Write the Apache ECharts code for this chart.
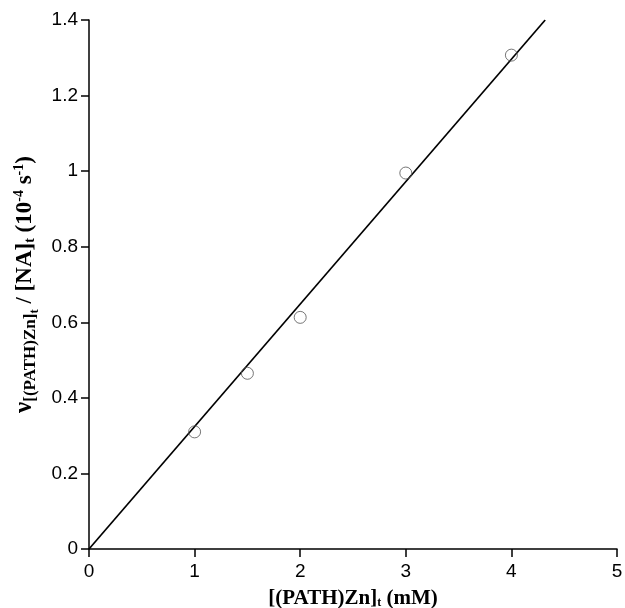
<!DOCTYPE html>
<html>
<head>
<meta charset="utf-8">
<script src="https://cdn.jsdelivr.net/npm/echarts@6/dist/echarts.min.js"></script>
<style>
html,body{margin:0;padding:0;background:#fff;}
#chart{width:625px;height:608px;}
</style>
</head>
<body>
<div id="chart"></div>
<script>
// Measured rate vs. total catalyst concentration
const concentration = [1, 1.5, 2, 3, 4];          // [(PATH)Zn]t, mM
const rate = [0.31, 0.465, 0.613, 0.995, 1.307];  // 10^-4 s^-1
// Linear fit through the origin, drawn between its two end points
const fitLine = [[0, 0], [4.32, 1.4]];
const xTicks = [0, 1, 2, 3, 4, 5];
const yTicks = [0, 0.2, 0.4, 0.6, 0.8, 1, 1.2, 1.4];

const points = concentration.map((c, i) => [c, rate[i]]);
const chart = echarts.init(document.getElementById('chart'));

const SERIF = 'Liberation Serif, Times New Roman, serif';
const axisCommon = {
  axisLine: { show: true, onZero: false, lineStyle: { color: '#000', width: 1.5 } },
  axisTick: { show: true, inside: false, length: 8, lineStyle: { color: '#000', width: 1.5 } },
  splitLine: { show: false },
  axisLabel: { color: '#000', fontFamily: 'Liberation Sans, Arial, sans-serif', fontSize: 19 }
};

chart.setOption({
  animation: false,
  backgroundColor: '#fff',
  grid: { left: 89, right: 8, top: 20, bottom: 59, outerBoundsMode: 'none', containLabel: false },
  xAxis: Object.assign({}, axisCommon, {
    type: 'value', min: xTicks[0], max: xTicks[xTicks.length - 1], interval: 1,
    axisLabel: Object.assign({}, axisCommon.axisLabel, { margin: 13 }),
    name: '{b|[(PATH)Zn]}{sub|t}{b| (mM)}',
    nameLocation: 'middle', nameGap: 39,
    nameTextStyle: {
      rich: {
        b: { fontFamily: SERIF, fontWeight: 'bold', fontSize: 21, color: '#000' },
        sub: { fontFamily: SERIF, fontWeight: 'bold', fontSize: 12, color: '#000', padding: [9, 0, 0, 0] }
      }
    }
  }),
  yAxis: Object.assign({}, axisCommon, {
    type: 'value', min: yTicks[0], max: yTicks[yTicks.length - 1], interval: 0.2,
    axisLabel: Object.assign({}, axisCommon.axisLabel, { margin: 11 }),
    name: '{nu|ν}{sub|[(PATH)Zn]}{subt|t}{b| / [NA]}{sub2|t}{b| (10}{sup|-4}{b| s}{sup|-1}{b|)}',
    nameLocation: 'middle', nameGap: 41, nameRotate: 90,
    nameTextStyle: {
      rich: {
        nu: { fontFamily: SERIF, fontWeight: 'bold', fontSize: 25, color: '#000' },
        b: { fontFamily: SERIF, fontWeight: 'bold', fontSize: 23, color: '#000' },
        sub: { fontFamily: SERIF, fontWeight: 'bold', fontSize: 17, color: '#000', padding: [11, 0, 0, 0] },
        subt: { fontFamily: SERIF, fontWeight: 'bold', fontSize: 13, color: '#000', padding: [19, 0, 0, 0] },
        sub2: { fontFamily: SERIF, fontWeight: 'bold', fontSize: 14, color: '#000', padding: [12, 0, 0, 0] },
        sup: { fontFamily: SERIF, fontWeight: 'bold', fontSize: 14, color: '#000', padding: [0, 0, 11, 0] }
      }
    }
  }),
  series: [
    {
      type: 'line', data: fitLine, symbol: 'none', silent: true,
      lineStyle: { color: '#000', width: 1.7 }, z: 2
    },
    {
      type: 'scatter', data: points, symbol: 'circle', symbolSize: 12,
      itemStyle: { color: 'rgba(255,255,255,0)', borderColor: '#555', borderWidth: 1 }, z: 3
    }
  ]
});
</script>
</body>
</html>
